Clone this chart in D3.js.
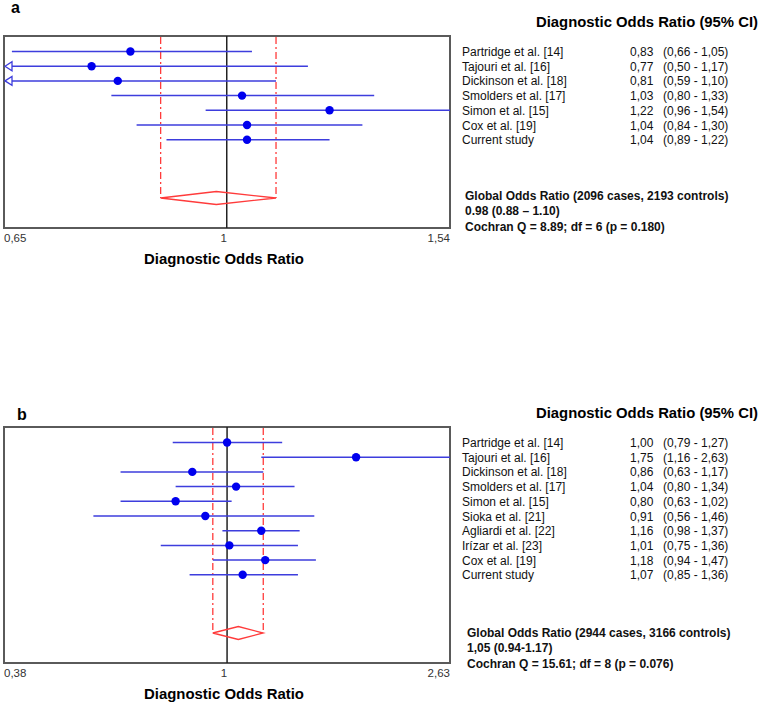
<!DOCTYPE html>
<html><head><meta charset="utf-8">
<script src="https://cdn.jsdelivr.net/npm/d3@7"></script>
<style>
html,body{margin:0;padding:0;background:#fff;}
svg{display:block;}
</style></head>
<body>
<svg id="chart" width="764" height="708"></svg>
<script>
// ---- Data ----
const studiesA = ["Partridge et al. [14]","Tajouri et al. [16]","Dickinson et al. [18]","Smolders et al. [17]","Simon et al. [15]","Cox et al. [19]","Current study"];
const orA = [0.83,0.77,0.81,1.03,1.22,1.04,1.04];
const loA = [0.66,0.50,0.59,0.80,0.96,0.84,0.89];
const hiA = [1.05,1.17,1.10,1.33,1.54,1.30,1.22];
const globalA = [0.98,0.88,1.10];
const ticksA = ["0,65","1","1,54"];
const domainA = [0.65,1.54];
const summaryA = ["Global Odds Ratio (2096 cases, 2193 controls)","0.98 (0.88 \u2013 1.10)","Cochran Q = 8.89; df = 6 (p = 0.180)"];

const studiesB = ["Partridge et al. [14]","Tajouri et al. [16]","Dickinson et al. [18]","Smolders et al. [17]","Simon et al. [15]","Sioka et al. [21]","Agliardi et al. [22]","Irízar et al. [23]","Cox et al. [19]","Current study"];
const orB = [1.00,1.75,0.86,1.04,0.80,0.91,1.16,1.01,1.18,1.07];
const loB = [0.79,1.16,0.63,0.80,0.63,0.56,0.98,0.75,0.94,0.85];
const hiB = [1.27,2.63,1.17,1.34,1.02,1.46,1.37,1.36,1.47,1.36];
const globalB = [1.05,0.94,1.17];
const ticksB = ["0,38","1","2,63"];
const domainB = [0.38,2.63];
const summaryB = ["Global Odds Ratio (2944 cases, 3166 controls)","1,05 (0.94-1.17)","Cochran Q = 15.61; df = 8 (p = 0.076)"];

const fmt = v => v.toFixed(2).replace(".", ",");

const svg = d3.select("#chart");
const FONT = "'Liberation Sans', Arial, sans-serif";

function panel(cfg){
  const {label, top, bottom, names, or, lo, hi, glob, ticks, domain, summary} = cfg;
  const left = 4, right = 450;
  const g = svg.append("g");
  const x = d3.scaleLog().domain(domain).range([left, right]);
  const y = d3.scaleLinear().domain([0, names.length-1]).range([top+15.5, top+15.5+(names.length-1)*14.7]);
  const diamondY = bottom - 30;

  // panel letter
  g.append("text").attr("x", cfg.labelX).attr("y", cfg.labelY)
    .attr("font-family", FONT).attr("font-weight","bold").attr("font-size",16).text(label);

  // box
  g.append("rect").attr("x", left).attr("y", top).attr("width", right-left).attr("height", bottom-top)
    .attr("fill","none").attr("stroke","#5a5a5a").attr("stroke-width",2);

  // red dashed lines
  [glob[1], glob[2]].forEach(v => {
    g.append("line").attr("x1", x(v)).attr("x2", x(v)).attr("y1", top+1).attr("y2", diamondY)
      .attr("stroke","#ff3b3b").attr("stroke-width",1.3).attr("stroke-dasharray","7,3,2,3");
  });

  // null line
  g.append("line").attr("x1", x(1)).attr("x2", x(1)).attr("y1", top).attr("y2", bottom)
    .attr("stroke","#222").attr("stroke-width",1.5);

  // diamond
  const hh = 6.5;
  g.append("path")
    .attr("d", `M${x(glob[1])},${diamondY} L${x(glob[0])},${diamondY-hh} L${x(glob[2])},${diamondY} L${x(glob[0])},${diamondY+hh} Z`)
    .attr("fill","none").attr("stroke","#ff3b3b").attr("stroke-width",1.3);

  // CI lines
  names.forEach((n,i) => {
    const yy = y(i);
    const below = lo[i] < domain[0];
    const xl = below ? left + 8 : x(Math.max(lo[i], domain[0]));
    const xr = x(Math.min(hi[i], domain[1]));
    g.append("line").attr("x1", xl).attr("x2", xr).attr("y1", yy).attr("y2", yy)
      .attr("stroke","#3d3ddd").attr("stroke-width",1.5);
    if (below){
      g.append("path").attr("d", `M${left+1},${yy} L${left+8},${yy-4.5} L${left+8},${yy+4.5} Z`)
        .attr("fill","#fff").attr("stroke","#3d3ddd").attr("stroke-width",1.3);
    }
    g.append("circle").attr("cx", x(or[i])).attr("cy", yy).attr("r",4.2).attr("fill","#0000ee");
  });

  // tick labels
  const tickY = bottom + 14;
  const tv = [domain[0], 1, domain[1]];
  const anchors = ["start","middle","end"];
  tv.forEach((v,i) => {
    g.append("text").attr("x", i===1 ? x(v)-3 : x(v)).attr("y", tickY)
      .attr("text-anchor", anchors[i]).attr("font-family", FONT).attr("font-size",11.5).attr("fill","#333")
      .text(ticks[i]);
  });

  // axis title
  g.append("text").attr("x", 224).attr("y", bottom + 36).attr("text-anchor","middle")
    .attr("font-family", FONT).attr("font-weight","bold").attr("font-size",15)
    .attr("textLength",160).attr("lengthAdjust","spacingAndGlyphs")
    .text("Diagnostic Odds Ratio");

  // right title
  g.append("text").attr("x", 536).attr("y", top - 9).attr("font-family", FONT).attr("font-weight","bold")
    .attr("font-size",15).attr("textLength",222).attr("lengthAdjust","spacingAndGlyphs")
    .text("Diagnostic Odds Ratio (95% CI)");

  // study labels
  names.forEach((n,i) => {
    const yy = y(i) + 4.5;
    g.append("text").attr("x",462).attr("y",yy).attr("font-family",FONT).attr("font-size",12).attr("fill","#111").text(n);
    g.append("text").attr("x",630).attr("y",yy).attr("font-family",FONT).attr("font-size",12).attr("fill","#111").text(fmt(or[i]));
    g.append("text").attr("x",663).attr("y",yy).attr("font-family",FONT).attr("font-size",12).attr("fill","#111")
      .text(`(${fmt(lo[i])} - ${fmt(hi[i])})`);
  });

  // summary
  summary.forEach((s,i) => {
    g.append("text").attr("x", cfg.sumX).attr("y", cfg.sumY + i*15.3).attr("font-family", FONT)
      .attr("font-weight","bold").attr("font-size",12).attr("fill","#111").text(s);
  });
}

panel({label:"a", labelX:11, labelY:13, top:36, bottom:228, names:studiesA, or:orA, lo:loA, hi:hiA,
  glob:globalA, ticks:ticksA, domain:domainA, summary:summaryA, sumX:465, sumY:200});
panel({label:"b", labelX:17, labelY:420, top:427, bottom:663, names:studiesB, or:orB, lo:loB, hi:hiB,
  glob:globalB, ticks:ticksB, domain:domainB, summary:summaryB, sumX:467, sumY:637});
</script>
</body></html>
